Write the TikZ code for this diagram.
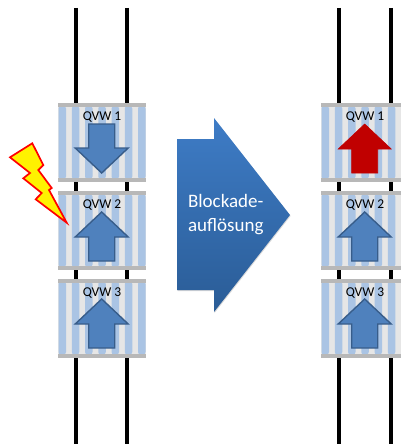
\documentclass[tikz,border=0pt]{standalone}
\usepackage{fontspec}
\setmainfont{Carlito}
\usepackage{tikz}
\usetikzlibrary{shadows}
\definecolor{stripeblue}{RGB}{170,196,228}
\definecolor{stripegray}{RGB}{230,230,230}
\definecolor{framegray}{RGB}{184,184,184}
\definecolor{arrowblue}{RGB}{79,129,189}
\definecolor{arrowline}{RGB}{56,93,138}
\definecolor{arrowred}{RGB}{192,0,0}
\definecolor{bigtop}{RGB}{62,124,198}
\definecolor{bigbottom}{RGB}{42,92,150}
\tikzset{
  rail/.style={draw=black,line width=4pt},
  qvwlabel/.style={draw=none,font=\fontsize{13.5pt}{15pt}\selectfont},
  flow/.style={draw=arrowline,fill=arrowblue,line width=1.4pt},
  flowred/.style={draw=arrowred,fill=arrowred,line width=.6pt},
  bigarrow/.style={top color=bigtop,bottom color=bigbottom,draw=none,
    drop shadow={shadow xshift=.6pt,shadow yshift=-1pt,opacity=.3}},
  bigtext/.style={draw=none,text=white,align=left,anchor=west,
    font=\fontsize{19pt}{24pt}\selectfont}
}
% valve block: left edge, top edge, name, number
\newcommand{\qvwbox}[4]{
  \fill[stripegray] (#1,#2) rectangle ++(88,79);
  \foreach \k in {0,1,2,3,4,5,6}
    \fill[stripeblue,rounded corners=2.5pt] ({#1+0.5+\k*13.25},#2+3) rectangle ++(7.5,73);
  \fill[framegray] (#1,#2) rectangle ++(88,4);
  \fill[framegray] (#1,#2+75) rectangle ++(88,4);
  \node[qvwlabel] (#3) at ({#1+44},#2+14.5) {QVW #4};
}
% arrow up from tip, centre x, tip y, style
\newcommand{\qvwup}[3]{
  \draw[#3] (#1,#2) -- ++(26.5,25) -- ++(-13.5,0) -- ++(0,24) -- ++(-26,0) -- ++(0,-24) -- ++(-13.5,0) -- cycle;
}
\begin{document}
\begin{tikzpicture}[x=1pt,y=-1pt]
  \useasboundingbox (0,0) rectangle (401,444);
  \clip (0,0) rectangle (401,444);

  % rails
  \coordinate (railatop) at (76,8);
  \coordinate (railabot) at (76,444);
  \coordinate (railbtop) at (127,8);
  \coordinate (railbbot) at (127,444);
  \coordinate (railctop) at (339,8);
  \coordinate (railcbot) at (339,444);
  \coordinate (railstop) at (391,8);
  \coordinate (railsbot) at (391,444);
  \draw[rail] (railatop) -- (railabot);
  \draw[rail] (railbtop) -- (railbbot);
  \draw[rail] (railctop) -- (railcbot);
  \draw[rail] (railstop) -- (railsbot);

  % left stack
  \qvwbox{58}{103}{qvwa}{1}
  \qvwbox{58}{191}{qvwb}{2}
  \qvwbox{58}{278.5}{qvwc}{3}
  \draw[flow] (101.7,173) -- ++(26.5,-25) -- ++(-13.5,0) -- ++(0,-24) -- ++(-26,0) -- ++(0,24) -- ++(-13.5,0) -- cycle;
  \qvwup{101.7}{212}{flow}
  \qvwup{101.7}{299}{flow}

  % right stack
  \qvwbox{321}{103}{qvwd}{1}
  \qvwbox{321}{191}{qvwe}{2}
  \qvwbox{321}{278.5}{qvwf}{3}
  \qvwup{364.7}{124}{flowred}
  \qvwup{364.7}{212}{flow}
  \qvwup{364.7}{299}{flow}

  % lightning
  \draw[fill=yellow,draw=red,line width=1.7pt,line join=miter]
    (32.3,143.3) -- (10,157.3) -- (30,173) -- (23.3,178.3) -- (41.7,193) -- (35.7,199.3) -- (66.7,222.7)
    -- (49,190) -- (51.7,188) -- (38.3,170) -- (43.3,165) -- cycle;

  % big arrow
  \path[bigarrow] (177,139) -- (214,139) -- (214,118) -- (290,215) -- (214,312) -- (214,290) -- (177,290) -- cycle;
  \node[bigtext] (blockade) at (184.5,215) {Blockade-\\auflösung};
\end{tikzpicture}
\end{document}
